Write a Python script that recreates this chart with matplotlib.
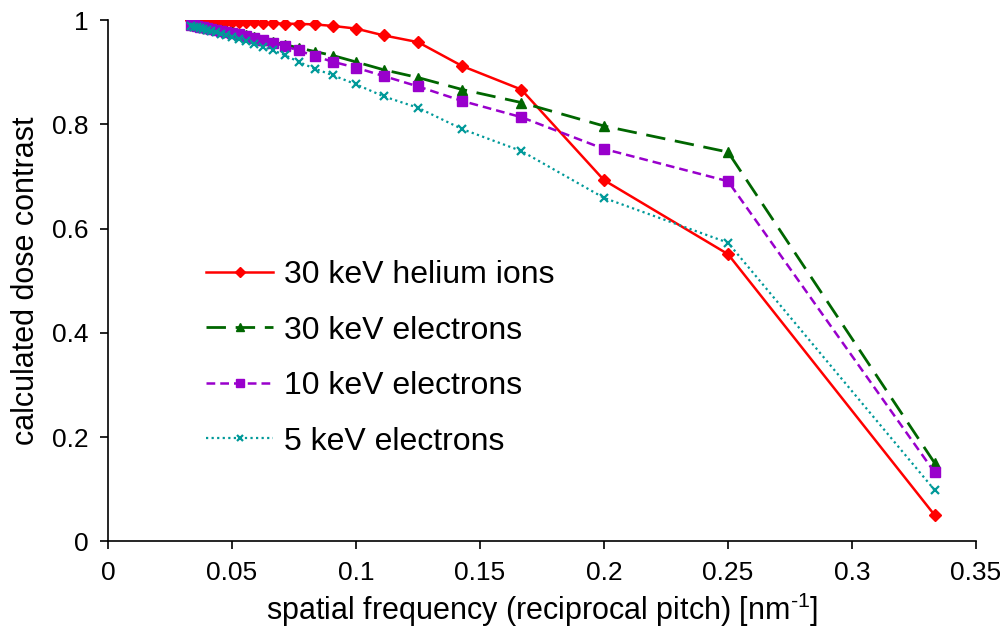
import numpy as np
import matplotlib
matplotlib.use('Agg')
import matplotlib.pyplot as plt
from matplotlib.ticker import FuncFormatter

plt.rcParams['font.family'] = ['Liberation Sans', 'DejaVu Sans']
plt.rcParams['mathtext.fontset'] = 'custom'
plt.rcParams['mathtext.rm'] = 'Liberation Sans'

# pitch in nm (x axis is 1/pitch)
pitch = [3, 4, 5, 6, 7, 8, 9, 10, 11, 12, 13, 14, 15, 16, 17, 18, 19, 20,
         21, 22, 23, 24, 25, 26, 27, 28, 29, 30]

helium_30kev = [0.050, 0.551, 0.693, 0.867, 0.912, 0.958, 0.971, 0.984, 0.989, 0.992,
                0.993, 0.9935, 0.994, 0.995, 0.996, 0.996, 0.997, 0.997, 0.998, 0.998,
                0.998, 0.999, 0.999, 0.999, 0.999, 1.0, 1.0, 1.0]
electrons_30kev = [0.150, 0.747, 0.797, 0.842, 0.867, 0.890, 0.905, 0.920, 0.932, 0.940,
                   0.947, 0.953, 0.958, 0.963, 0.967, 0.971, 0.974, 0.977, 0.979, 0.981,
                   0.983, 0.985, 0.986, 0.988, 0.989, 0.990, 0.991, 0.992]
electrons_10kev = [0.132, 0.691, 0.753, 0.814, 0.845, 0.873, 0.893, 0.909, 0.920, 0.931,
                   0.942, 0.950, 0.957, 0.962, 0.966, 0.970, 0.973, 0.976, 0.978, 0.980,
                   0.982, 0.984, 0.985, 0.987, 0.988, 0.989, 0.990, 0.991]
electrons_5kev = [0.098, 0.573, 0.659, 0.749, 0.791, 0.832, 0.854, 0.877, 0.894, 0.907,
                  0.920, 0.933, 0.942, 0.949, 0.955, 0.960, 0.964, 0.968, 0.971, 0.974,
                  0.977, 0.979, 0.981, 0.983, 0.985, 0.987, 0.988, 0.989]

freq = 1.0 / np.array(pitch, dtype=float)

fig = plt.figure(figsize=(10, 6.33), dpi=100)
ax = fig.add_axes([0.108, 0.145, 0.868, 0.823])

ax.plot(freq, helium_30kev, color='#ff0000', lw=1.8, ls='-', marker='D', ms=6,
        label='30 keV helium ions')
ax.plot(freq, electrons_30kev, color='#006600', lw=2.0, ls=(0, (7, 3.5)), marker='^', ms=7,
        label='30 keV electrons')
ax.plot(freq, electrons_10kev, color='#9900cc', lw=1.8, ls=(0, (3.5, 2)), marker='s', ms=7,
        label='10 keV electrons')
ax.plot(freq, electrons_5kev, color='#009999', lw=1.6, ls=(0, (1, 1.5)), marker='x', ms=6,
        mew=1.6, label='5 keV electrons')

ax.set_xlim(0, 0.35)
ax.set_ylim(0, 1)
ax.set_xticks(np.arange(0, 0.351, 0.05))
ax.set_yticks(np.arange(0, 1.01, 0.2))
ax.xaxis.set_major_formatter(FuncFormatter(lambda v, p: '%g' % round(v, 2)))
ax.yaxis.set_major_formatter(FuncFormatter(lambda v, p: '%g' % round(v, 1)))
ax.tick_params(direction='out', length=6, width=1.2, labelsize=19, pad=8)
for s in ['top', 'right']:
    ax.spines[s].set_visible(False)
for s in ['left', 'bottom']:
    ax.spines[s].set_linewidth(1.2)

ax.set_xlabel(r'spatial frequency (reciprocal pitch) [nm$^{\text{-}1}$]', fontsize=22, labelpad=4)
ax.set_ylabel('calculated dose contrast', fontsize=22, labelpad=8)

ax.legend(loc='upper left', bbox_to_anchor=(0.08, 0.595), frameon=False, fontsize=23,
          handlelength=2.1, labelspacing=0.8, handletextpad=0.35, markerscale=0.8)

plt.savefig('out.png')
